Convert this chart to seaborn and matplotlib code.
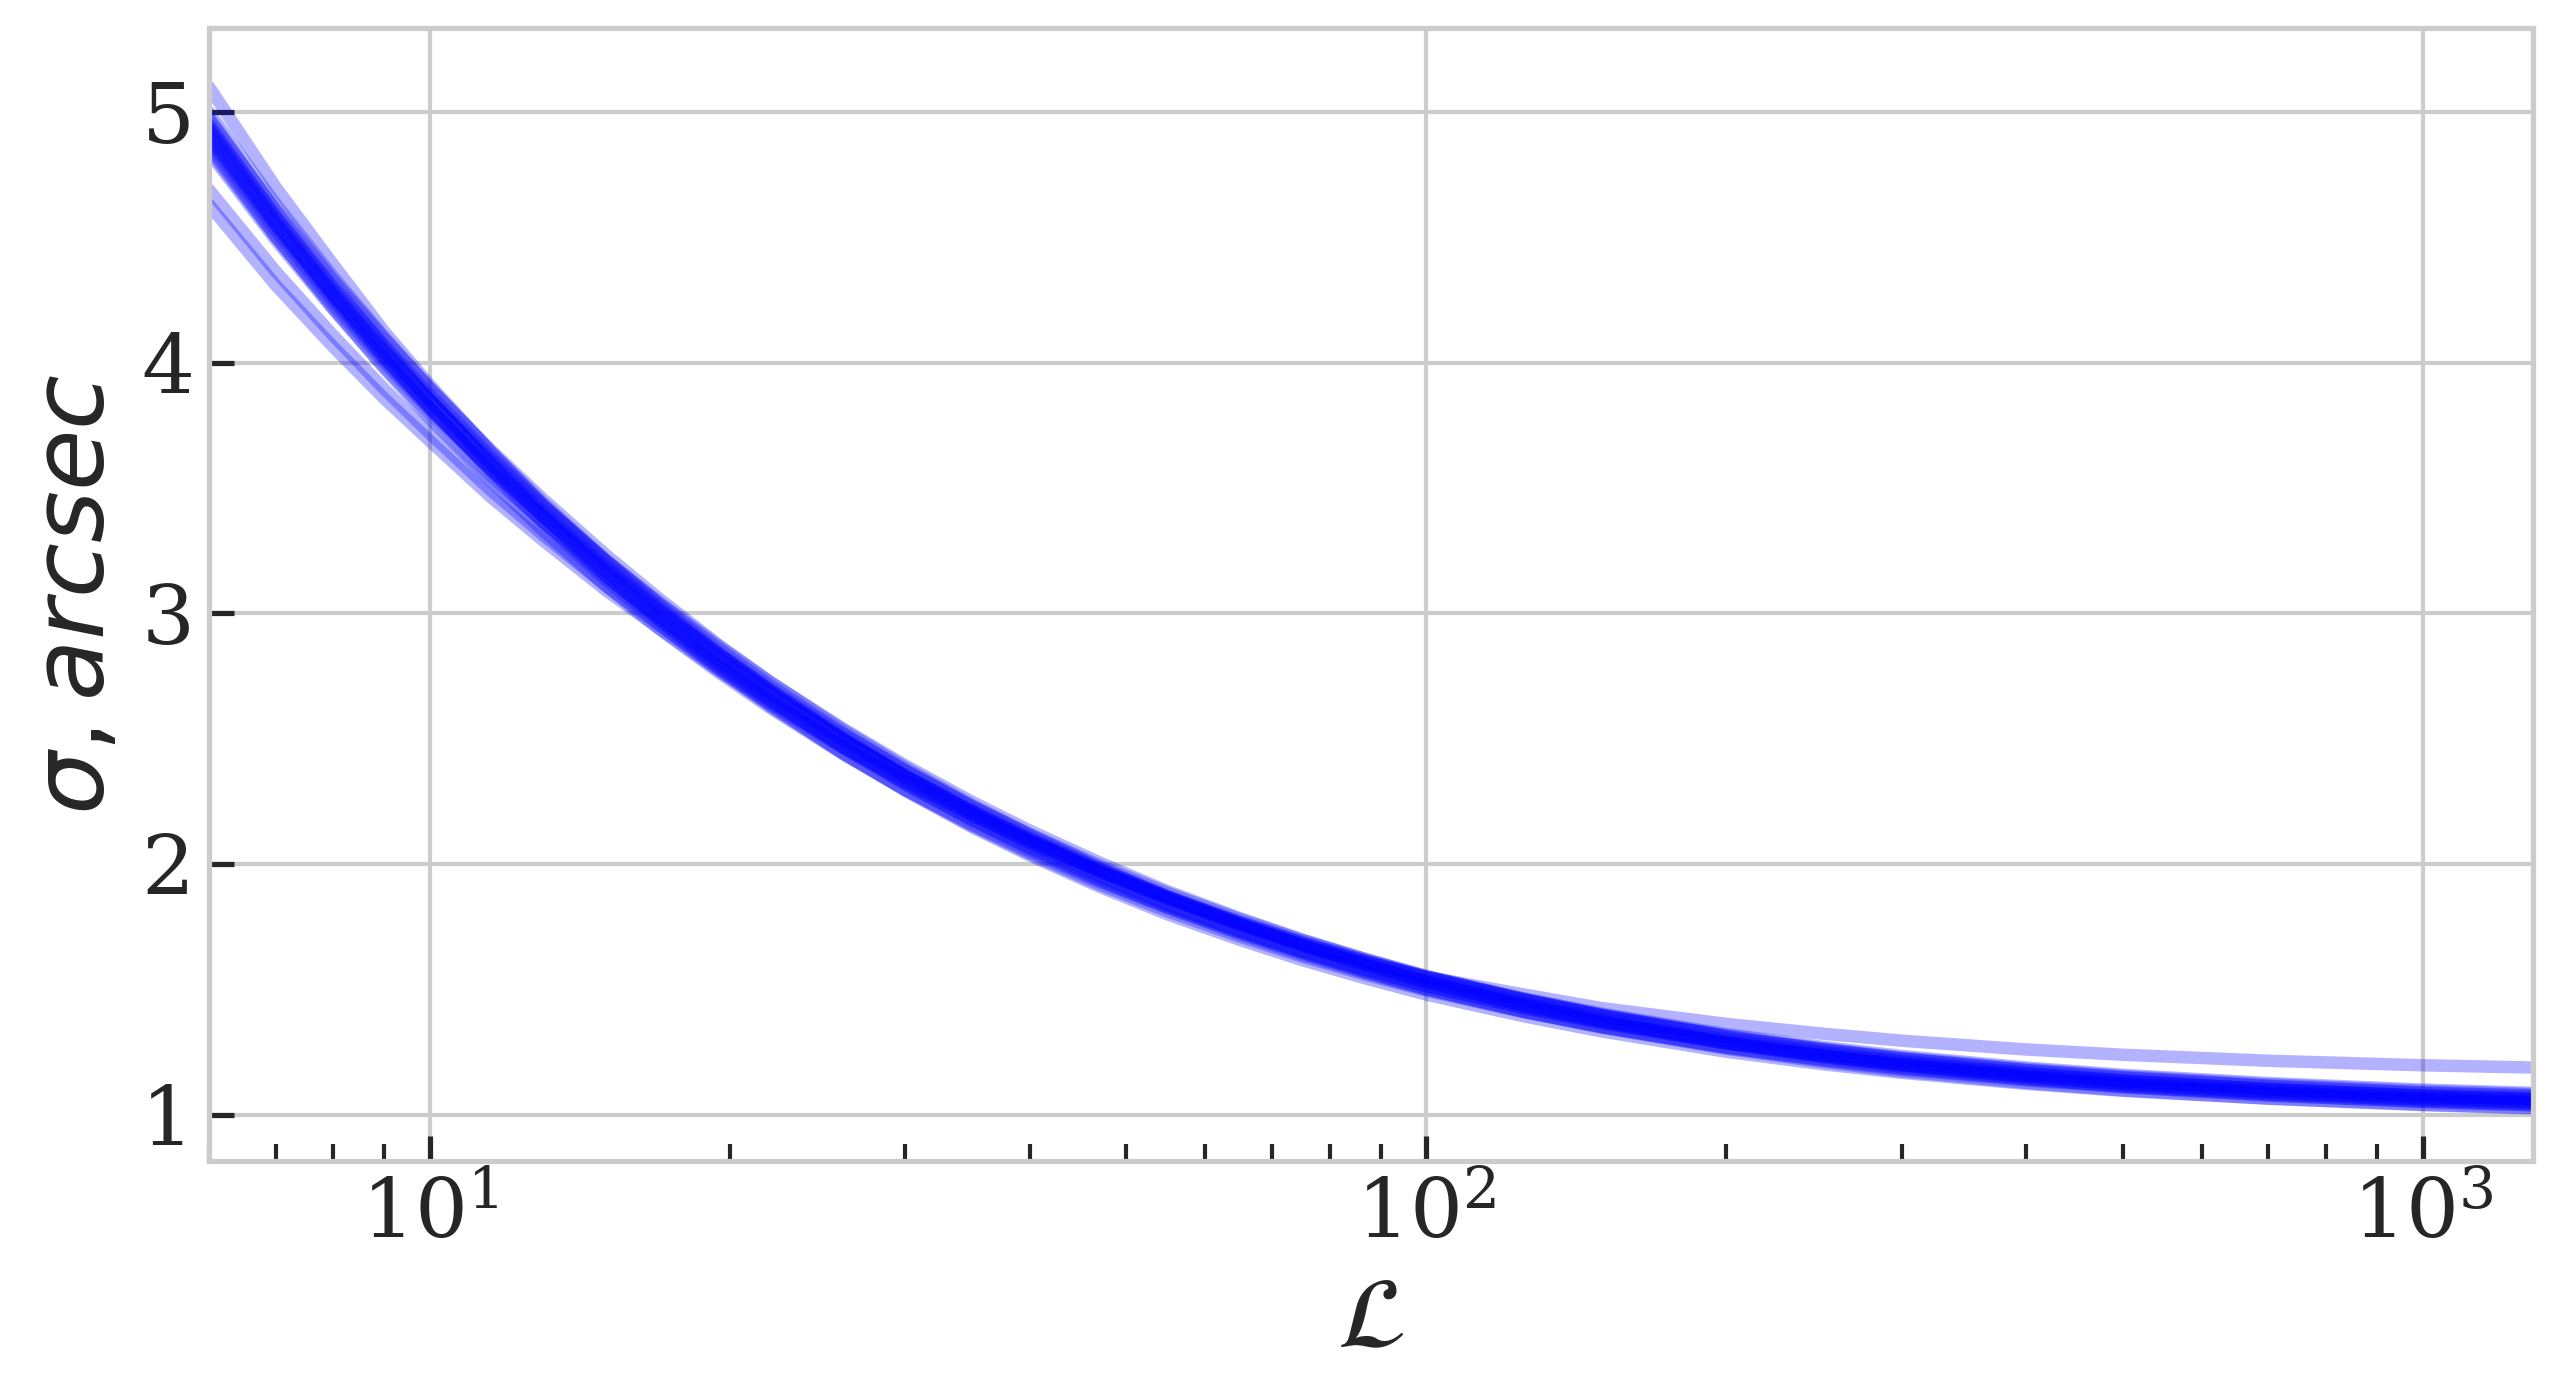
import numpy as np
import pandas as pd
import matplotlib
matplotlib.use("Agg")
import matplotlib.pyplot as plt
import seaborn as sns

# ---- data (sigma in arcsec vs L) ----
L_values = [6, 7, 8, 9, 10, 11.5, 13, 15, 17, 19.5, 22, 26, 30, 35, 40, 47, 55, 65, 75, 87,
            100, 125, 150, 200, 250, 300, 400, 500, 700, 1000, 1290]

# outlier curve (highest at both ends)
curve_T = [5.10, 4.70, 4.39, 4.123, 3.91, 3.647, 3.43, 3.204, 3.02, 2.834, 2.685, 2.494, 2.348, 2.204,
           2.09, 1.968, 1.86, 1.758, 1.677, 1.607, 1.55, 1.48, 1.425, 1.362, 1.323, 1.295, 1.260,
           1.239, 1.215, 1.197, 1.188]

# main bundle
curve_01 = [5.000, 4.633, 4.341, 4.101, 3.898, 3.646, 3.439, 3.213, 3.031, 2.843, 2.691, 2.499, 2.347,
            2.199, 2.081, 1.952, 1.837, 1.730, 1.647, 1.568, 1.501, 1.411, 1.347, 1.263, 1.210,
            1.173, 1.127, 1.097, 1.064, 1.038, 1.025]
curve_02 = [4.980, 4.607, 4.308, 4.061, 3.854, 3.595, 3.383, 3.154, 2.970, 2.783, 2.632, 2.441, 2.292,
            2.147, 2.034, 1.909, 1.799, 1.697, 1.617, 1.543, 1.479, 1.393, 1.332, 1.251, 1.201,
            1.167, 1.123, 1.095, 1.064, 1.040, 1.027]
curve_03 = [4.970, 4.612, 4.327, 4.095, 3.898, 3.653, 3.454, 3.235, 3.057, 2.873, 2.724, 2.534, 2.384,
            2.235, 2.118, 1.986, 1.871, 1.761, 1.676, 1.597, 1.529, 1.436, 1.371, 1.283, 1.229,
            1.191, 1.143, 1.112, 1.078, 1.051, 1.037]
curve_04 = [4.950, 4.583, 4.291, 4.050, 3.847, 3.595, 3.390, 3.166, 2.985, 2.803, 2.654, 2.466, 2.318,
            2.174, 2.060, 1.934, 1.825, 1.720, 1.639, 1.565, 1.500, 1.412, 1.350, 1.267, 1.216,
            1.181, 1.137, 1.109, 1.076, 1.051, 1.038]
curve_05 = [4.940, 4.583, 4.301, 4.069, 3.872, 3.630, 3.431, 3.214, 3.038, 2.858, 2.710, 2.522, 2.374,
            2.227, 2.111, 1.982, 1.868, 1.760, 1.676, 1.598, 1.530, 1.439, 1.374, 1.288, 1.234,
            1.197, 1.149, 1.119, 1.085, 1.058, 1.044]
curve_06 = [4.930, 4.562, 4.267, 4.024, 3.820, 3.565, 3.358, 3.134, 2.954, 2.773, 2.626, 2.439, 2.294,
            2.152, 2.041, 1.918, 1.811, 1.710, 1.631, 1.558, 1.495, 1.409, 1.349, 1.268, 1.219,
            1.184, 1.141, 1.113, 1.082, 1.058, 1.045]
curve_07 = [4.920, 4.562, 4.277, 4.044, 3.847, 3.602, 3.404, 3.187, 3.012, 2.833, 2.687, 2.501, 2.354,
            2.210, 2.096, 1.970, 1.858, 1.752, 1.670, 1.593, 1.527, 1.437, 1.374, 1.289, 1.236,
            1.200, 1.154, 1.124, 1.091, 1.065, 1.051]
curve_08 = [4.910, 4.548, 4.258, 4.020, 3.820, 3.570, 3.367, 3.148, 2.972, 2.793, 2.648, 2.462, 2.318,
            2.176, 2.065, 1.942, 1.833, 1.732, 1.652, 1.577, 1.513, 1.426, 1.365, 1.283, 1.232,
            1.197, 1.152, 1.123, 1.092, 1.067, 1.054]
curve_09 = [4.895, 4.546, 4.269, 4.043, 3.852, 3.616, 3.424, 3.213, 3.043, 2.868, 2.723, 2.539, 2.393,
            2.248, 2.133, 2.006, 1.891, 1.784, 1.699, 1.620, 1.552, 1.460, 1.395, 1.308, 1.253,
            1.216, 1.168, 1.137, 1.102, 1.074, 1.061]
curve_10 = [4.880, 4.525, 4.244, 4.013, 3.818, 3.577, 3.382, 3.169, 2.997, 2.823, 2.679, 2.496, 2.352,
            2.210, 2.098, 1.973, 1.863, 1.759, 1.678, 1.602, 1.536, 1.447, 1.384, 1.300, 1.247,
            1.211, 1.165, 1.136, 1.102, 1.076, 1.063]
curve_11 = [4.865, 4.503, 4.215, 3.976, 3.777, 3.529, 3.328, 3.111, 2.936, 2.763, 2.620, 2.437, 2.296,
            2.158, 2.049, 1.929, 1.825, 1.726, 1.647, 1.575, 1.512, 1.427, 1.367, 1.287, 1.238,
            1.204, 1.160, 1.133, 1.102, 1.077, 1.065]
curve_12 = [4.850, 4.501, 4.226, 4.000, 3.809, 3.575, 3.384, 3.176, 3.008, 2.838, 2.696, 2.515, 2.372,
            2.231, 2.119, 1.994, 1.884, 1.779, 1.697, 1.620, 1.553, 1.463, 1.399, 1.314, 1.260,
            1.224, 1.177, 1.147, 1.113, 1.086, 1.073]
curve_13 = [4.840, 4.489, 4.211, 3.982, 3.790, 3.552, 3.360, 3.151, 2.982, 2.813, 2.672, 2.492, 2.350,
            2.212, 2.101, 1.979, 1.871, 1.768, 1.687, 1.613, 1.547, 1.459, 1.395, 1.312, 1.261,
            1.224, 1.178, 1.150, 1.116, 1.089, 1.077]

# lower group at small L
curve_LL1 = [4.630, 4.309, 4.062, 3.856, 3.687, 3.465, 3.289, 3.093, 2.938, 2.771, 2.636, 2.462, 2.327,
             2.193, 2.089, 1.972, 1.868, 1.769, 1.691, 1.614, 1.550, 1.464, 1.403, 1.321, 1.270,
             1.234, 1.188, 1.159, 1.126, 1.100, 1.087]
curve_LL2 = [4.690, 4.364, 4.107, 3.894, 3.717, 3.492, 3.311, 3.110, 2.951, 2.783, 2.646, 2.469, 2.332,
             2.196, 2.090, 1.970, 1.864, 1.763, 1.684, 1.610, 1.546, 1.459, 1.397, 1.315, 1.264,
             1.228, 1.183, 1.154, 1.121, 1.095, 1.082]

curves = {
    "T": curve_T,
    "01": curve_01, "02": curve_02, "03": curve_03, "04": curve_04, "05": curve_05,
    "06": curve_06, "07": curve_07, "08": curve_08, "09": curve_09, "10": curve_10,
    "11": curve_11, "12": curve_12, "13": curve_13,
    "LL1": curve_LL1, "LL2": curve_LL2,
}

rows = []
for name, vals in curves.items():
    for L, s in zip(L_values, vals):
        rows.append({"L": L, "sigma": s, "curve": name})
df = pd.DataFrame(rows)

# ---- style ----
sns.set_theme(style="whitegrid", context="notebook", rc={
    "xtick.bottom": True, "ytick.left": True,
    "xtick.direction": "in", "ytick.direction": "in",
    "xtick.major.size": 6, "ytick.major.size": 6,
    "xtick.minor.size": 4, "xtick.major.width": 1.25,
    "ytick.major.width": 1.25, "xtick.minor.width": 1.0,
})
plt.rcParams["font.family"] = ["serif"]
plt.rcParams["font.serif"] = ["DejaVu Serif"]
plt.rcParams["mathtext.fontset"] = "dejavusans"

fig = plt.figure(figsize=(2564 / 300, 1399 / 300), dpi=300)
ax = fig.add_axes([0.0815, 0.1701, 0.9064, 0.8099])

sns.lineplot(data=df, x="L", y="sigma", units="curve", estimator=None, sort=False,
             color="blue", alpha=0.3, linewidth=3, ax=ax, legend=False)

ax.set_xscale("log")
ax.set_xlim(6, 1290)
ax.set_ylim(0.815, 5.335)
ax.set_yticks([1, 2, 3, 4, 5])
ax.tick_params(axis="both", which="major", labelsize=20)
ax.set_xlabel(r"$\mathcal{L}$", fontsize=24)
ax.set_ylabel(r"$\sigma, arcsec$", fontsize=24)

fig.savefig("out.png", dpi=300)
